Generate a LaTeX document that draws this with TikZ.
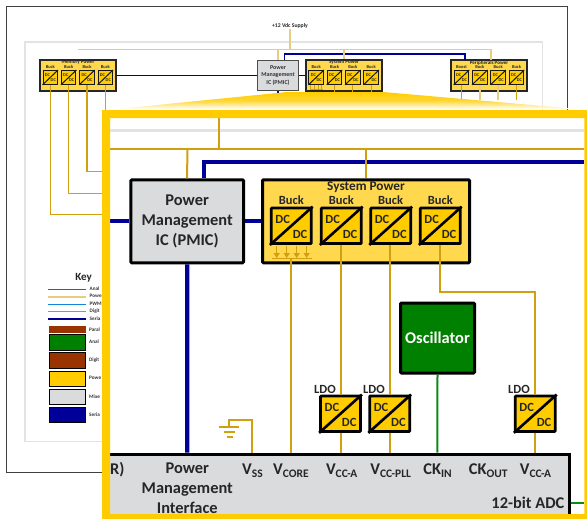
\documentclass[tikz,border=0pt]{standalone}
\usepackage{fontspec}
\setmainfont{Carlito}
\usetikzlibrary{calc,arrows.meta}
\definecolor{pwr}{HTML}{D0A010}
\definecolor{pwrl}{HTML}{E8CC80}
\definecolor{gold}{HTML}{FFCC00}
\definecolor{goldl}{HTML}{FFD84D}
\definecolor{navy}{HTML}{000099}
\definecolor{agreen}{HTML}{0B8A16}
\definecolor{oscg}{HTML}{008000}
\definecolor{brownr}{HTML}{993300}
\definecolor{mgray}{HTML}{DADBDD}
\definecolor{lgray}{HTML}{E3E3E3}
\tikzset{
 x=1pt,y=-1pt,
 smallbox/.style={draw=black!85,line width=1.1pt,fill=goldl,minimum width=76pt,minimum height=31pt,inner sep=0},
 bigwire/.style={pwr,line width=2pt},
 bluewire/.style={navy,line width=4.2pt},
 swire/.style={pwr,line width=1.2pt},
 swirel/.style={pwrl,line width=1.5pt},
 sblue/.style={navy,line width=1.7pt},
 lab/.style={inner sep=0,text=black!85},
 bigbox/.style={draw=black,line width=3pt,rounded corners=1pt,inner sep=0},
 keyl/.style={inner sep=0,anchor=west,font=\bfseries\fontsize{5.2}{6}\selectfont,text=black!80},
 keybox/.style={draw=black,line width=1pt,minimum width=36pt,minimum height=15.5pt,inner sep=0},
}
\newcommand{\dcbig}[3]{%
 \node[draw=black,line width=2.8pt,fill=gold,minimum width=40pt,minimum height=35.5pt,inner sep=0,rounded corners=0.8pt] (#3) at (#1,#2) {};
 \draw[black,line width=2.6pt] (#3.south west) -- (#3.north east);
 \node[lab,font=\bfseries\fontsize{12.5}{13}\selectfont] (#3t1) at ($(#3.center)+(-8.6,-6.6)$) {DC};
 \node[lab,font=\bfseries\fontsize{12.5}{13}\selectfont] (#3t2) at ($(#3.center)+(8.7,9)$) {DC};
}
\newcommand{\dcsmall}[3]{%
 \node[draw=black!90,line width=1pt,fill=gold,minimum width=14.5pt,minimum height=13.8pt,inner sep=0] (#3) at (#1,#2) {};
 \draw[black!90,line width=1pt] (#3.south west) -- (#3.north east);
 \node[lab,font=\bfseries\fontsize{4.4}{5}\selectfont] (#3t1) at ($(#3.center)+(-2.9,-2.4)$) {DC};
 \node[lab,font=\bfseries\fontsize{4.4}{5}\selectfont] (#3t2) at ($(#3.center)+(3,3)$) {DC};
}
\newcommand{\vpin}[2]{#1\raisebox{-2.6pt}{\fontsize{11.5}{12}\selectfont #2}}
\begin{document}
\begin{tikzpicture}
\useasboundingbox (0,0) rectangle (587,520);
\fill[white] (0,0) rectangle (587,520);
% ---- background page
\draw[black!75,line width=1pt] (6.7,6.4) rectangle (567.3,472.7);
\draw[lgray,line width=1.5pt] (25,41.8) rectangle (542.3,441.5);
\node[lab,font=\bfseries\fontsize{5.7}{6}\selectfont] (supply) at (290,26) {+12 Vdc Supply};
\coordinate (tee) at (290,49.3);
\coordinate (tl) at (77.8,49.3);
\coordinate (tr) at (490.8,49.3);
\draw[swirel] (supply.south) -- (tee);
\draw[swirel] (tl) -- (tr);
% small PMIC
\node[draw=black!70,line width=1.4pt,fill=mgray,minimum width=41pt,minimum height=30.5pt,inner sep=0,align=center,font=\bfseries\fontsize{6}{7.8}\selectfont,text=black!80] (spmic) at (278,75.5) {Power\\Management\\IC (PMIC)};
\draw[swirel] (278,49.3) -- (spmic.north);
% small groups
\node[smallbox] (mem) at (78,75.5) {};
\node[smallbox] (sys) at (344,75.5) {};
\node[smallbox] (per) at (489,75.5) {};
\node[lab,font=\bfseries\fontsize{5.1}{5}\selectfont] (memt) at (78,62.5) {Memory Power};
\node[lab,font=\bfseries\fontsize{5.1}{5}\selectfont] (syst) at (344,62.5) {System Power};
\node[lab,font=\bfseries\fontsize{5.1}{5}\selectfont] (pert) at (489,63.4) {Peripherals Power};
\foreach \n/\x/\t in {a/50.3/Buck,b/68.7/Buck,c/87/Buck,d/105.3/Buck,e/316.2/Buck,f/334.5/Buck,g/352.8/Buck,h/371.2/Buck,i/461.5/Boost,j/479.8/Buck,k/498.2/Buck,l/516.5/Buck}{
 \dcsmall{\x}{77.4}{s\n}
 \node[lab,font=\bfseries\fontsize{4.5}{5}\selectfont] (sl\n) at (\x,67.3) {\t};
}
\draw[sblue] (mem.east) -- (spmic.west);
\draw[sblue] (spmic.east) -- (sys.west);
\draw[sblue] (284.4,60) -- (284.4,53.7) -- (465,53.7) -- (465,60);
\draw[swirel] (344,49.3) -- (sys.north);
\draw[swirel] (tr) -- (490.8,60);
\draw[sblue] (spmic.south) -- (278,100);
% small arrows
\foreach \x in {310.7,314.2,318,321.7}{\draw[pwr,line width=0.6pt] (\x,85) -- (\x,89);}
\draw[pwr,line width=0.6pt] (309.5,89.4) -- (323,89.4);
% wires leaving small blocks
\coordinate (w1) at (102,214.3);
\coordinate (w2) at (102,193.3);
\coordinate (w3) at (102,171.7);
\coordinate (w4) at (105.3,112);
\draw[swire] (sa.south) |- (w1);
\draw[swire] (sb.south) |- (w2);
\draw[swire] (sc.south) |- (w3);
\draw[swire] (sd.south) -- (w4);
\foreach \n in {f,g,h}{\draw[swire] (s\n.south) -- +(0,7);}
\foreach \n in {i,l}{\draw[swire] (s\n.south) -- +(0,15);}
\foreach \n in {j,k}{\draw[swirel] (s\n.south) -- +(0,15);}
% Key
\node[lab,font=\bfseries\fontsize{11}{11}\selectfont] (keyt) at (83.5,278) {Key};
\foreach \y/\c/\w/\t/\m in {289.5/agreen/1.3/Anal/k1,297/pwrl/1.6/Powe/k2,304.5/cyan!70!blue/1.3/PWM/k3,311.5/brownr!60!white/1.3/Digit/k4,319/navy/2/Seria/k5}{
 \coordinate (\m) at (48.3,\y);
 \draw[\c,line width=\w pt] (\m) -- ++(37.4,0);
 \node[keyl] (\m t) at (89.5,\y-0.7) {\t};
}
\node[fill=brownr,minimum width=37pt,minimum height=7.3pt,inner sep=0] (kp) at (67,329.7) {};
\node[keyl] (kpt) at (89,329.2) {Paral};
\foreach \y/\c/\t/\m in {342.5/oscg/Anal/b1,360.5/brownr/Digit/b2,378.8/gold/Powe/b3,396.8/mgray/Mixe/b4,415.2/navy/Seria/b5}{
 \node[keybox,fill=\c] (\m) at (67,\y) {};
 \node[keyl] (\m t) at (89,\y-0.5) {\t};
}
% ---- funnel
\shade[top color=gold,bottom color=white,middle color=gold!80!white] (117,109) -- (287,92) -- (383,92) -- (578,109) -- cycle;
% ---- inset
\fill[white] (102,110) rectangle (587,520);
\draw[lgray,line width=3pt] (110,130) -- (584,130);
\coordinate (b1l) at (110,149.3);
\coordinate (b1r) at (584,149.3);
\coordinate (b2r) at (584,162.3);
\draw[bigwire] (219.3,118) -- (219.3,149.3);
\draw[bigwire] (b1l) -- (b1r);
\node[bigbox,fill=mgray,minimum width=112.7pt,minimum height=83pt,align=center,font=\bfseries\fontsize{16.4}{20.2}\selectfont,text=black!85] (pmic) at (187.2,221.3) {Power\\Management\\IC (PMIC)};
\node[bigbox,fill=goldl,minimum width=207pt,minimum height=83pt] (sp) at (366,221.3) {};
\draw[bluewire] (204.3,178) -- (204.3,162.3) -- (b2r);
\draw[bigwire] (187.3,149.3) -- (pmic.north);
\draw[bigwire] (365.7,149.3) -- (365.7,178);
\draw[bluewire] (110,221.3) -- (pmic.west);
\draw[bluewire] (pmic.east) -- (sp.west);
\node[lab,font=\bfseries\fontsize{13.3}{13}\selectfont] (spt) at (366,186.7) {System Power};
\foreach \n/\x in {A/291.3,B/341.3,C/390.7,D/440.3}{
 \dcbig{\x}{225.8}{\n}
 \node[lab,font=\bfseries\fontsize{12.5}{13}\selectfont] (l\n) at (\x,200) {Buck};
}
% arrows under first buck
\foreach \x in {276.7,286.7,296.7,306.7}{\draw[-{Triangle[width=6pt,length=5pt]},pwr,line width=1pt] (\x,246) -- (\x,258);}
\draw[pwr,line width=1.3pt] (272.3,258.7) -- (311.7,258.7);
% ADC
\node[fill=mgray,minimum width=461pt,minimum height=62pt,inner sep=0,anchor=north west] (adc) at (110,454) {};
\draw[black,line width=3pt] (adc.north west) -- (569.5,454) -- (569.5,516);
% LDO
\dcbig{340.5}{413.7}{Lone}
\dcbig{389.7}{413.7}{Ltwo}
\dcbig{535.3}{413.7}{Lthree}
\node[lab,font=\bfseries\fontsize{12.5}{13}\selectfont] (lo) at (325,389) {LDO};
\node[lab,font=\bfseries\fontsize{12.5}{13}\selectfont] (lt) at (374,389) {LDO};
\node[lab,font=\bfseries\fontsize{12.5}{13}\selectfont] (lh) at (519,389) {LDO};
\coordinate (g) at (252.3,452.5);
\coordinate (pcore) at (291.3,452.5);
\draw[bigwire] (291.3,258.7) -- (pcore);
\draw[bluewire] (pmic.south) -- (187.3,452.5);
\draw[bigwire] (B.south -| Lone.north) -- (Lone.north);
\draw[bigwire] (C.south -| Ltwo.north) -- (Ltwo.north);
\draw[bigwire] (D.south) -- (440.3,291.7) -- (535.3,291.7) -- (Lthree.north);
\draw[bigwire] (Lone.south) -- (340.5,452.5);
\draw[bigwire] (Ltwo.south) -- (389.7,452.5);
\draw[bigwire] (Lthree.south) -- (535.3,452.5);
% Oscillator
\node[bigbox,fill=oscg,minimum width=74pt,minimum height=70pt,font=\bfseries\fontsize{16.4}{16}\selectfont,text=white] (osc) at (437.5,338) {Oscillator};
\draw[agreen,line width=2pt] (osc.south) -- (437.4,452.5);
% ground
\draw[bigwire,line join=miter] (g) -- (252.3,420) -- (229.3,420) -- (229.3,427.3);
\draw[bigwire] (219.3,427.3) -- (239.3,427.3);
\draw[bigwire] (224,432.3) -- (235,432.3);
\draw[bigwire] (226.7,436.8) -- (232.7,436.8);
\draw[agreen,line width=2pt] (571,503.3) -- (584,503.3);
% ADC labels
\node[lab,font=\bfseries\fontsize{16.4}{16}\selectfont,anchor=west] (rp) at (110,469.5) {R)};
\node[lab,align=center,font=\bfseries\fontsize{16.4}{20}\selectfont,text=black!85,anchor=north] (pmi) at (187.3,462.5) {Power\\Management\\Interface};
\foreach \m/\x/\a/\b in {pa/252.5/V/SS,pb/291/V/CORE,pc/341.7/V/CC-A,pd/390.7/V/CC-PLL,pe/437.5/CK/IN,pf/488.3/CK/OUT,pg/535.5/V/CC-A}{
 \node[lab,font=\bfseries\fontsize{16.4}{16}\selectfont] (\m) at (\x,470.5) {\vpin{\a}{\b}};
}
\node[lab,font=\bfseries\fontsize{16.4}{16}\selectfont,anchor=east] (adct) at (564.5,503) {12-bit ADC};
% frame
\fill[gold,even odd rule] (102,110) rectangle (587,519.3) (110,118) rectangle (584.3,514);
\fill[white] (102,519.3) rectangle (587,520);
\end{tikzpicture}
\end{document}
